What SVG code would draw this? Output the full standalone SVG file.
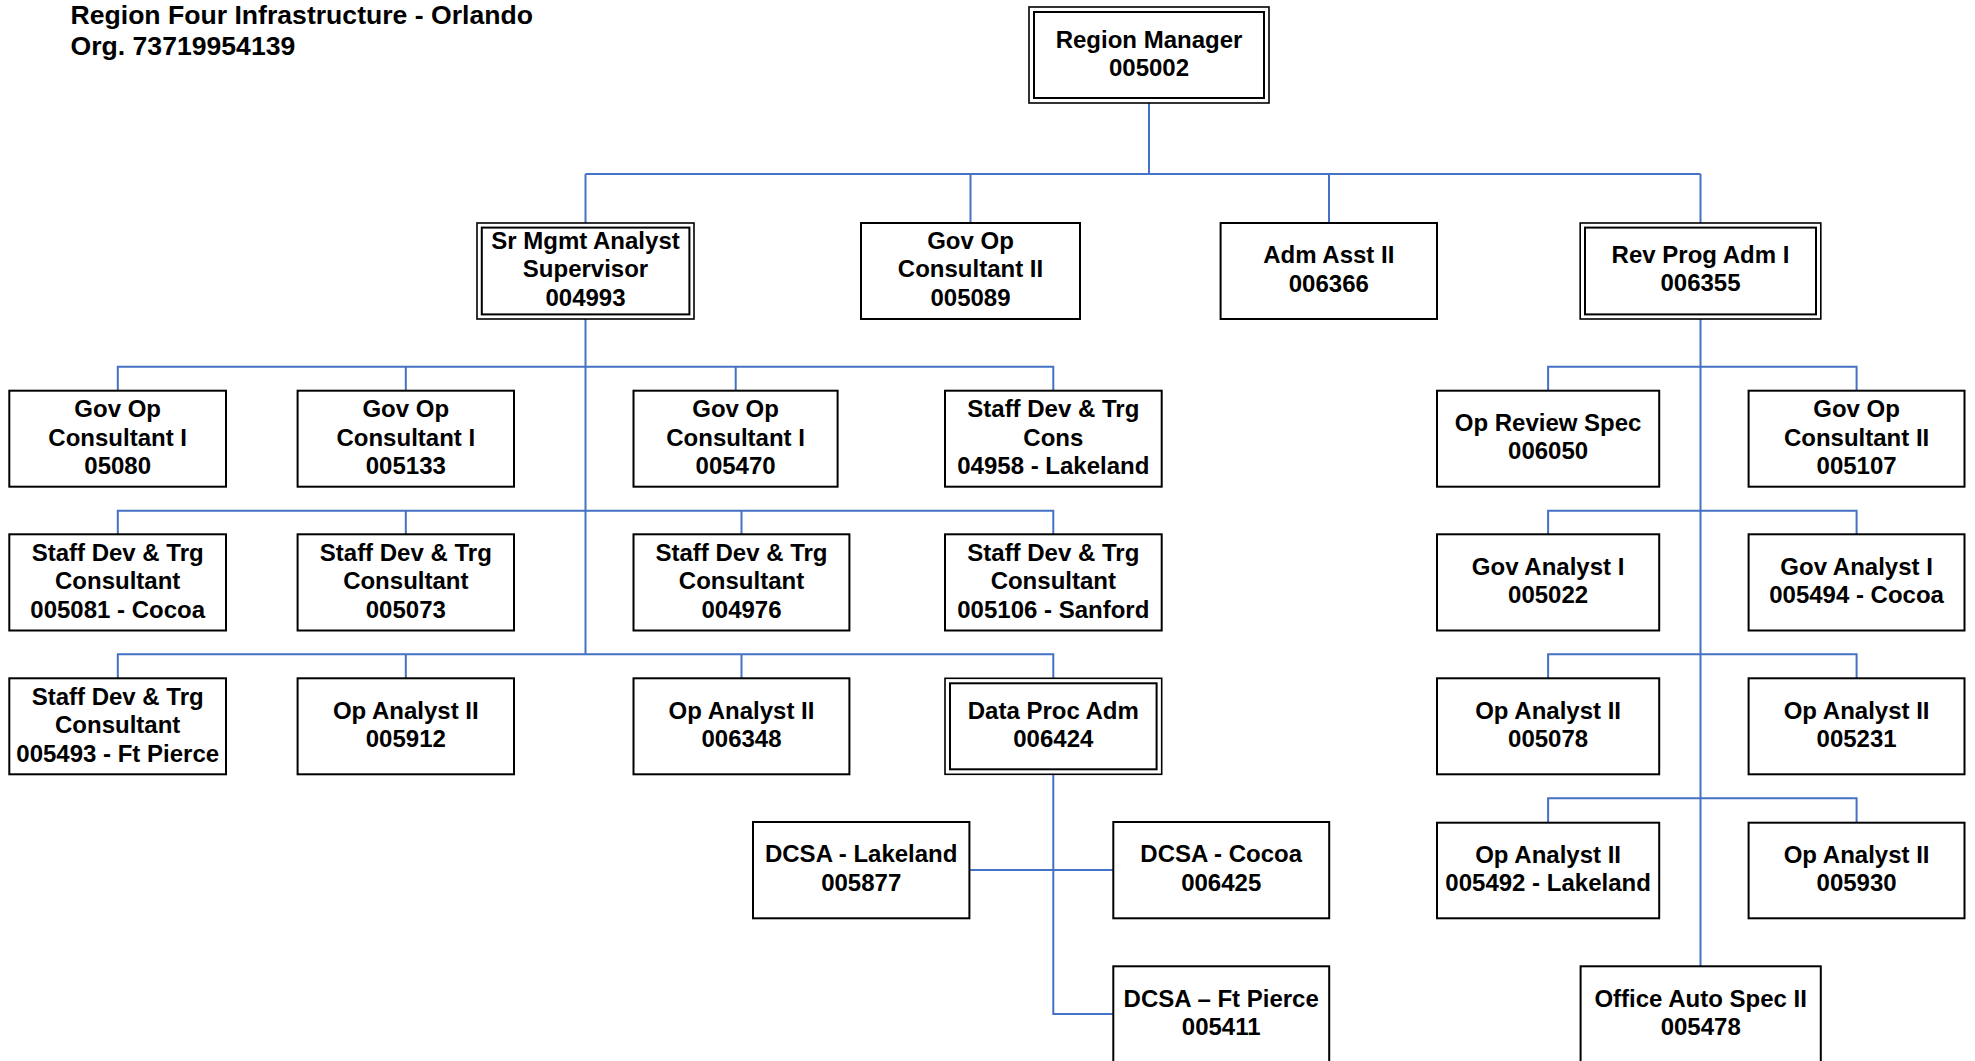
<svg xmlns="http://www.w3.org/2000/svg" width="1975" height="1061" viewBox="0 0 1975 1061">
  <style>
    .bg { fill: #ffffff; }
    .box { fill: #ffffff; stroke: #000000; stroke-width: 2; }
    .outer { fill: #ffffff; stroke: #000000; stroke-width: 1.6; }
    .inner { fill: none; stroke: #000000; stroke-width: 2; }
    .conn { fill: none; stroke: #4472C4; stroke-width: 2; }
    .lbl { font-family: "Liberation Sans", Arial, sans-serif; font-weight: bold; font-size: 24px; fill: #000000; text-anchor: middle; }
    .title { font-family: "Liberation Sans", Arial, sans-serif; font-weight: bold; font-size: 26.6px; fill: #000000; }
  </style>
  <rect class="bg" x="0" y="0" width="1975" height="1061"/>

  <!-- heading -->
  <g id="heading">
    <text class="title" x="70.5" y="23.5">Region Four Infrastructure - Orlando</text>
    <text class="title" x="70.5" y="55">Org. 73719954139</text>
  </g>

  <!-- reporting lines -->
  <g id="connectors">
    <!-- top level -->
    <path class="conn" d="M1149,103 V174 M585.5,174 H1700.5 M585.5,174 V223 M970.5,174 V223 M1329,174 V223 M1700.5,174 V223"/>
    <!-- Sr Mgmt Analyst Supervisor branch -->
    <path class="conn" d="M585.5,319 V654.3"/>
    <path class="conn" d="M117.8,390.7 V366.7 H1053.3 V390.7 M405.8,366.7 V390.7 M735.7,366.7 V390.7"/>
    <path class="conn" d="M117.8,534.3 V510.7 H1053.3 V534.3 M405.8,510.7 V534.3 M741.5,510.7 V534.3"/>
    <path class="conn" d="M117.8,678.3 V654.3 H1053.3 V678.3 M405.8,654.3 V678.3 M741.5,654.3 V678.3"/>
    <!-- Data Proc Adm branch -->
    <path class="conn" d="M1053.3,774.3 V1014 H1113.3 M969.4,870 H1113.3"/>
    <!-- Rev Prog Adm I branch -->
    <path class="conn" d="M1700.5,319 V966.3"/>
    <path class="conn" d="M1548.1,390.7 V366.7 H1856.6 V390.7"/>
    <path class="conn" d="M1548.1,534.3 V510.7 H1856.6 V534.3"/>
    <path class="conn" d="M1548.1,678.3 V654.3 H1856.6 V678.3"/>
    <path class="conn" d="M1548.1,822.7 V798.3 H1856.6 V822.7"/>
  </g>

  <!-- level 1 -->
  <g id="region-manager">
    <rect class="outer" x="1029" y="7" width="240" height="96"/>
    <rect class="inner" x="1034" y="12" width="230" height="86"/>
    <text class="lbl" x="1149" y="48"><tspan x="1149">Region Manager</tspan><tspan x="1149" y="76">005002</tspan></text>
  </g>

  <!-- level 2 -->
  <g id="sr-mgmt-analyst-supervisor">
    <rect class="outer" x="477" y="223" width="217" height="96"/>
    <rect class="inner" x="481.8" y="227.6" width="207.6" height="86.8"/>
    <text class="lbl" x="585.5" y="248.5"><tspan x="585.5">Sr Mgmt Analyst</tspan><tspan x="585.5" y="277.3">Supervisor</tspan><tspan x="585.5" y="306">004993</tspan></text>
  </g>
  <g id="gov-op-consultant-ii-005089">
    <rect class="box" x="861" y="223" width="219" height="96"/>
    <text class="lbl" x="970.5" y="248.5"><tspan x="970.5">Gov Op</tspan><tspan x="970.5" y="277.3">Consultant II</tspan><tspan x="970.5" y="306">005089</tspan></text>
  </g>
  <g id="adm-asst-ii-006366">
    <rect class="box" x="1220.6" y="223" width="216.4" height="96"/>
    <text class="lbl" x="1328.8" y="263.3"><tspan x="1328.8">Adm Asst II</tspan><tspan x="1328.8" y="291.5">006366</tspan></text>
  </g>
  <g id="rev-prog-adm-i">
    <rect class="outer" x="1580.2" y="223" width="240.6" height="96"/>
    <rect class="inner" x="1585" y="227.6" width="231" height="86.8"/>
    <text class="lbl" x="1700.5" y="263.3"><tspan x="1700.5">Rev Prog Adm I</tspan><tspan x="1700.5" y="291.3">006355</tspan></text>
  </g>

  <!-- Sr Mgmt Analyst Supervisor staff, row A -->
  <g id="gov-op-consultant-i-05080">
    <rect class="box" x="9.3" y="390.7" width="216.7" height="96"/>
    <text class="lbl" x="117.7" y="417"><tspan x="117.7">Gov Op</tspan><tspan x="117.7" y="445.7">Consultant I</tspan><tspan x="117.7" y="474.3">05080</tspan></text>
  </g>
  <g id="gov-op-consultant-i-005133">
    <rect class="box" x="297.6" y="390.7" width="216.4" height="96"/>
    <text class="lbl" x="405.8" y="417"><tspan x="405.8">Gov Op</tspan><tspan x="405.8" y="445.7">Consultant I</tspan><tspan x="405.8" y="474.3">005133</tspan></text>
  </g>
  <g id="gov-op-consultant-i-005470">
    <rect class="box" x="633.5" y="390.7" width="204.1" height="96"/>
    <text class="lbl" x="735.6" y="417"><tspan x="735.6">Gov Op</tspan><tspan x="735.6" y="445.7">Consultant I</tspan><tspan x="735.6" y="474.3">005470</tspan></text>
  </g>
  <g id="staff-dev-trg-cons-04958">
    <rect class="box" x="945" y="390.7" width="216.7" height="96"/>
    <text class="lbl" x="1053.3" y="417"><tspan x="1053.3">Staff Dev &amp; Trg</tspan><tspan x="1053.3" y="445.7">Cons</tspan><tspan x="1053.3" y="474.3">04958 - Lakeland</tspan></text>
  </g>

  <!-- row B -->
  <g id="staff-dev-trg-consultant-005081">
    <rect class="box" x="9.3" y="534.3" width="216.7" height="96.2"/>
    <text class="lbl" x="117.7" y="560.6"><tspan x="117.7">Staff Dev &amp; Trg</tspan><tspan x="117.7" y="589.3">Consultant</tspan><tspan x="117.7" y="618">005081 - Cocoa</tspan></text>
  </g>
  <g id="staff-dev-trg-consultant-005073">
    <rect class="box" x="297.6" y="534.3" width="216.4" height="96.2"/>
    <text class="lbl" x="405.8" y="560.6"><tspan x="405.8">Staff Dev &amp; Trg</tspan><tspan x="405.8" y="589.3">Consultant</tspan><tspan x="405.8" y="618">005073</tspan></text>
  </g>
  <g id="staff-dev-trg-consultant-004976">
    <rect class="box" x="633.5" y="534.3" width="215.9" height="96.2"/>
    <text class="lbl" x="741.5" y="560.6"><tspan x="741.5">Staff Dev &amp; Trg</tspan><tspan x="741.5" y="589.3">Consultant</tspan><tspan x="741.5" y="618">004976</tspan></text>
  </g>
  <g id="staff-dev-trg-consultant-005106">
    <rect class="box" x="945" y="534.3" width="216.7" height="96.2"/>
    <text class="lbl" x="1053.3" y="560.6"><tspan x="1053.3">Staff Dev &amp; Trg</tspan><tspan x="1053.3" y="589.3">Consultant</tspan><tspan x="1053.3" y="618">005106 - Sanford</tspan></text>
  </g>

  <!-- row C -->
  <g id="staff-dev-trg-consultant-005493">
    <rect class="box" x="9.3" y="678.3" width="216.7" height="96"/>
    <text class="lbl" x="117.7" y="704.5"><tspan x="117.7">Staff Dev &amp; Trg</tspan><tspan x="117.7" y="733.2">Consultant</tspan><tspan x="117.7" y="761.9">005493 - Ft Pierce</tspan></text>
  </g>
  <g id="op-analyst-ii-005912">
    <rect class="box" x="297.6" y="678.3" width="216.4" height="96"/>
    <text class="lbl" x="405.8" y="718.6"><tspan x="405.8">Op Analyst II</tspan><tspan x="405.8" y="747.2">005912</tspan></text>
  </g>
  <g id="op-analyst-ii-006348">
    <rect class="box" x="633.5" y="678.3" width="215.9" height="96"/>
    <text class="lbl" x="741.5" y="718.6"><tspan x="741.5">Op Analyst II</tspan><tspan x="741.5" y="747.2">006348</tspan></text>
  </g>
  <g id="data-proc-adm">
    <rect class="outer" x="945" y="678.3" width="216.7" height="96"/>
    <rect class="inner" x="950" y="683.3" width="206.6" height="86"/>
    <text class="lbl" x="1053.3" y="718.6"><tspan x="1053.3">Data Proc Adm</tspan><tspan x="1053.3" y="747.2">006424</tspan></text>
  </g>

  <!-- Data Proc Adm staff -->
  <g id="dcsa-lakeland">
    <rect class="box" x="753" y="822" width="216.4" height="96.3"/>
    <text class="lbl" x="861.2" y="861.7"><tspan x="861.2">DCSA - Lakeland</tspan><tspan x="861.2" y="890.5">005877</tspan></text>
  </g>
  <g id="dcsa-cocoa">
    <rect class="box" x="1113.3" y="822" width="215.9" height="96.3"/>
    <text class="lbl" x="1221.2" y="861.7"><tspan x="1221.2">DCSA - Cocoa</tspan><tspan x="1221.2" y="890.5">006425</tspan></text>
  </g>
  <g id="dcsa-ft-pierce">
    <rect class="box" x="1113.3" y="966.3" width="215.9" height="96.3"/>
    <text class="lbl" x="1221.2" y="1006.5"><tspan x="1221.2">DCSA – Ft Pierce</tspan><tspan x="1221.2" y="1035">005411</tspan></text>
  </g>

  <!-- Rev Prog Adm I staff -->
  <g id="op-review-spec-006050">
    <rect class="box" x="1437" y="390.7" width="222.2" height="96"/>
    <text class="lbl" x="1548.1" y="430.5"><tspan x="1548.1">Op Review Spec</tspan><tspan x="1548.1" y="459.2">006050</tspan></text>
  </g>
  <g id="gov-op-consultant-ii-005107">
    <rect class="box" x="1748.6" y="390.7" width="215.9" height="96"/>
    <text class="lbl" x="1856.6" y="417"><tspan x="1856.6">Gov Op</tspan><tspan x="1856.6" y="445.7">Consultant II</tspan><tspan x="1856.6" y="474.3">005107</tspan></text>
  </g>
  <g id="gov-analyst-i-005022">
    <rect class="box" x="1437" y="534.3" width="222.2" height="96.2"/>
    <text class="lbl" x="1548.1" y="575"><tspan x="1548.1">Gov Analyst I</tspan><tspan x="1548.1" y="603.4">005022</tspan></text>
  </g>
  <g id="gov-analyst-i-005494">
    <rect class="box" x="1748.6" y="534.3" width="215.9" height="96.2"/>
    <text class="lbl" x="1856.6" y="575"><tspan x="1856.6">Gov Analyst I</tspan><tspan x="1856.6" y="603.4">005494 - Cocoa</tspan></text>
  </g>
  <g id="op-analyst-ii-005078">
    <rect class="box" x="1437" y="678.3" width="222.2" height="96"/>
    <text class="lbl" x="1548.1" y="718.6"><tspan x="1548.1">Op Analyst II</tspan><tspan x="1548.1" y="747.2">005078</tspan></text>
  </g>
  <g id="op-analyst-ii-005231">
    <rect class="box" x="1748.6" y="678.3" width="215.9" height="96"/>
    <text class="lbl" x="1856.6" y="718.6"><tspan x="1856.6">Op Analyst II</tspan><tspan x="1856.6" y="747.2">005231</tspan></text>
  </g>
  <g id="op-analyst-ii-005492">
    <rect class="box" x="1437" y="822.7" width="222.2" height="95.6"/>
    <text class="lbl" x="1548.1" y="862.7"><tspan x="1548.1">Op Analyst II</tspan><tspan x="1548.1" y="891.2">005492 - Lakeland</tspan></text>
  </g>
  <g id="op-analyst-ii-005930">
    <rect class="box" x="1748.6" y="822.7" width="215.9" height="95.6"/>
    <text class="lbl" x="1856.6" y="862.7"><tspan x="1856.6">Op Analyst II</tspan><tspan x="1856.6" y="891.2">005930</tspan></text>
  </g>
  <g id="office-auto-spec-ii-005478">
    <rect class="box" x="1580.6" y="966.3" width="240.2" height="96.3"/>
    <text class="lbl" x="1700.7" y="1006.5"><tspan x="1700.7">Office Auto Spec II</tspan><tspan x="1700.7" y="1035">005478</tspan></text>
  </g>
</svg>
